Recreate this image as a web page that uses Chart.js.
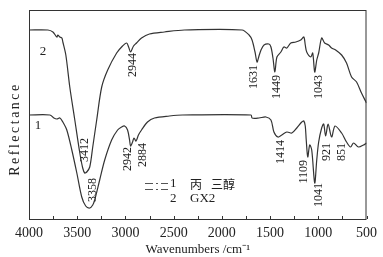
<!DOCTYPE html>
<html>
<head>
<meta charset="utf-8">
<script src="https://cdn.jsdelivr.net/npm/chart.js@4/dist/chart.umd.min.js"></script>
<style>
  html, body { margin: 0; padding: 0; background: #fff; }
  #wrap { width: 383px; height: 257px; }
</style>
</head>
<body>
<div id="wrap"><canvas id="irChart" width="383" height="257"></canvas></div>
<script>
// Sample 1 (glycerol) - wavenumber / reflectance (a.u.)
const wave1 = [4000, 3783, 3742, 3711, 3680, 3649, 3608, 3556, 3504, 3453, 3412, 3370, 3339, 3319,
  3267, 3215, 3143, 3081, 3040, 3009, 2978, 2957, 2947, 2926, 2911, 2890, 2865, 2833, 2771, 2699,
  2544, 2410, 1698, 1687, 1615, 1543, 1491, 1460, 1419, 1378, 1326, 1274, 1223, 1171, 1150, 1135,
  1125, 1109, 1089, 1068, 1037, 1016, 996, 965, 944, 924, 898, 862, 826, 758, 707, 665, 634, 583, 531, 500];
const refl1 = [104, 104, 101, 100, 101, 97, 89, 69, 46, 22, 13, 11, 14, 19,
  39, 59, 79, 89, 92, 93, 89, 79, 73, 77, 81, 78, 84, 89, 97, 101,
  103, 104, 104, 101, 101, 102, 99, 87, 82, 84, 87, 86, 91, 97, 98, 93,
  79, 62, 74, 69, 36, 59, 77, 91, 95, 83, 95, 82, 93, 86, 77, 72, 76, 72, 74, 76];

// Sample 2 (GX2)
const wave2 = [4000, 3804, 3752, 3711, 3701, 3680, 3659, 3649, 3618, 3577, 3525, 3473, 3443, 3422,
  3401, 3370, 3339, 3298, 3246, 3184, 3091, 3030, 2988, 2967, 2947, 2916, 2885, 2833, 2751, 2596,
  2389, 1791, 1718, 1687, 1656, 1635, 1615, 1594, 1563, 1512, 1491, 1470, 1450, 1429, 1388, 1357,
  1326, 1285, 1233, 1182, 1150, 1135, 1120, 1078, 1058, 1037, 1016, 996, 965, 934, 893, 862, 820,
  758, 707, 655, 603, 552, 500];
const refl2 = [189, 189, 187, 182, 184, 182, 181, 177, 164, 132, 99, 66, 51, 46,
  47, 52, 72, 99, 132, 149, 166, 173, 176, 172, 167, 173, 176, 181, 185, 187,
  189, 189, 184, 179, 167, 157, 163, 169, 174, 175, 172, 161, 147, 162, 167, 172,
  171, 176, 177, 179, 182, 174, 167, 162, 166, 147, 159, 166, 181, 176, 174, 171, 169,
  164, 156, 142, 137, 126, 116];

const xTicksMajor = [4000, 3500, 3000, 2500, 2000, 1500, 1000, 500];

// peak annotations: text, wavenumber where drawn, reflectance at upper end of text
const peakText = ['2944', '1631', '1449', '1043', '3412', '3358', '2942', '2884', '1414', '1109', '1041', '921', '851'];
const peakWave = [2926, 1667, 1429, 996, 3422, 3339, 2978, 2823, 1388, 1151, 996, 913, 758];
const peakTop  = [166, 154, 144, 144, 81, 41, 72, 76, 79, 59, 36, 76, 76];

const seriesNames = ['丙', '三醇', 'GX2'];

const ink = '#333';
const serif = '"Liberation Serif", "Times New Roman", serif';

const toPoints = (xs, ys) => xs.map((x, i) => ({ x: x, y: ys[i] }));

const decor = {
  id: 'decor',
  afterDraw(chart) {
    const { ctx, chartArea: a, scales } = chart;
    const x = scales.x, y = scales.y;
    ctx.save();
    // frame
    ctx.strokeStyle = ink;
    ctx.lineWidth = 1;
    ctx.strokeRect(a.left + 0.5, a.top + 0.5, a.right - a.left - 1, a.bottom - a.top);
    // inward ticks
    x.ticks.forEach(t => {
      const px = Math.round(x.getPixelForValue(t.value)) + 0.5;
      ctx.beginPath();
      ctx.moveTo(px, a.bottom);
      ctx.lineTo(px, a.bottom - 3);
      ctx.stroke();
    });
    // peak labels
    ctx.fillStyle = '#222';
    ctx.font = '12px ' + serif;
    ctx.textAlign = 'right';
    ctx.textBaseline = 'middle';
    peakText.forEach((txt, i) => {
      const px = x.getPixelForValue(peakWave[i]);
      const py = y.getPixelForValue(peakTop[i]);
      ctx.save();
      ctx.translate(px, py);
      ctx.rotate(-Math.PI / 2);
      ctx.fillText(txt, 0, 0);
      ctx.restore();
    });
    // curve numbers
    ctx.font = '13px ' + serif;
    ctx.textAlign = 'center';
    ctx.fillText('2', a.left + 14, a.top + 42);
    ctx.fillText('1', a.left + 9, a.top + 116);
    // y title
    ctx.save();
    ctx.translate(15, a.top + 119);
    ctx.rotate(-Math.PI / 2);
    ctx.letterSpacing = '2.5px';
    ctx.font = '14px ' + serif;
    ctx.fillText('Reflectance', 0, 0);
    ctx.restore();
    // legend
    const lx = a.left + 116, ly = a.top + 173;
    ctx.strokeStyle = '#555';
    ctx.setLineDash([8, 3, 2, 3]);
    [0, 6].forEach(dy => {
      ctx.beginPath();
      ctx.moveTo(lx, ly + dy + 0.5);
      ctx.lineTo(lx + 23, ly + dy + 0.5);
      ctx.stroke();
    });
    ctx.setLineDash([]);
    ctx.textAlign = 'left';
    ctx.fillText('1', lx + 25, ly + 1);
    ctx.fillText('2', lx + 25, ly + 16);
    ctx.font = '12px "Noto Sans CJK SC", serif';
    ctx.fillText(seriesNames[0], lx + 45, ly + 1);
    ctx.fillText(seriesNames[1], lx + 66, ly + 1);
    ctx.font = '13px ' + serif;
    ctx.fillText(seriesNames[2], lx + 45, ly + 16);
    ctx.restore();
  }
};

new Chart(document.getElementById('irChart'), {
  type: 'line',
  data: {
    datasets: [
      { label: '1', data: toPoints(wave1, refl1) },
      { label: '2', data: toPoints(wave2, refl2) }
    ]
  },
  options: {
    responsive: false,
    animation: false,
    parsing: false,
    layout: { padding: { left: 29, right: 14, top: 10, bottom: 0 } },
    elements: {
      line: { borderColor: '#333', borderWidth: 1.2, tension: 0.3, fill: false },
      point: { radius: 0 }
    },
    plugins: { legend: { display: false }, tooltip: { enabled: false } },
    scales: {
      x: {
        type: 'linear',
        reverse: true,
        min: 500,
        max: 4000,
        grid: { display: false, drawTicks: false },
        border: { display: false },
        afterFit: s => { s.height = 38; },
        ticks: {
          stepSize: 250,
          autoSkip: false,
          maxRotation: 0,
          padding: 6,
          color: '#222',
          font: { family: serif, size: 14 },
          callback: v => (xTicksMajor.includes(v) ? String(v) : '')
        },
        title: {
          display: true,
          text: 'Wavenumbers /cm⁻¹',
          color: '#222',
          font: { family: serif, size: 13 },
          padding: { top: 0, bottom: 0 }
        }
      },
      y: { display: false, min: 0, max: 209 }
    }
  },
  plugins: [decor]
});
</script>
</body>
</html>
